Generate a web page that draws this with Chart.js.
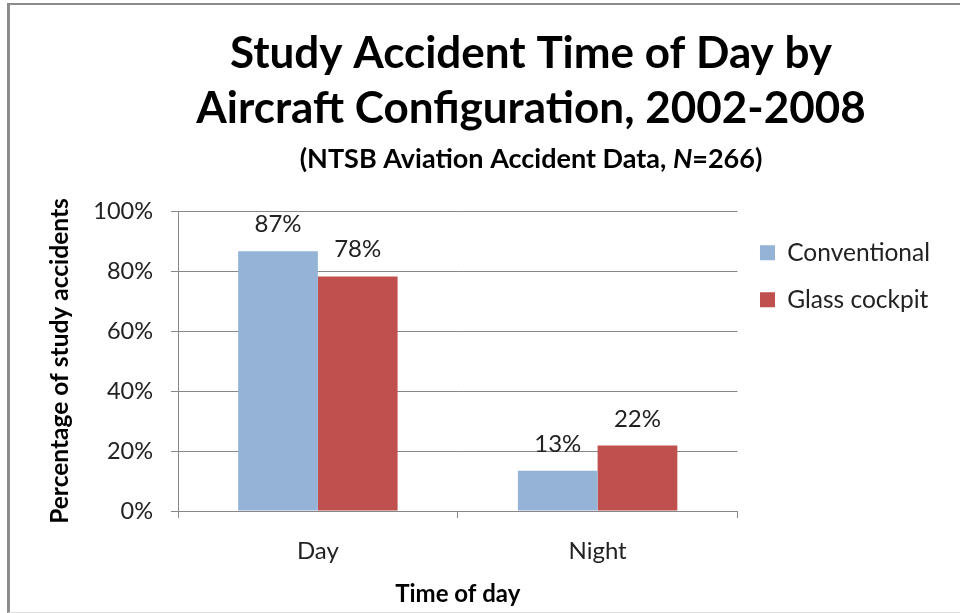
<!DOCTYPE html>
<html>
<head>
<meta charset="utf-8">
<title>Study Accident Time of Day by Aircraft Configuration</title>
<script src="https://cdn.jsdelivr.net/npm/chart.js@4.4.1/dist/chart.umd.min.js"></script>
<style>
  html, body { margin: 0; padding: 0; background: #fff; }
  #wrap { position: relative; width: 960px; height: 613px; overflow: hidden; }
  #frame {
    position: absolute; left: 7px; top: 3px; width: 960px; height: 607px;
    border-left: 3px solid #8c8c8c; border-top: 2px solid #8c8c8c; border-bottom: 1px solid #dcdcdc;
  }
  #accidentChart { position: absolute; left: 0; top: 0; }
</style>
</head>
<body>
<div id="wrap">
  <div id="frame"></div>
  <canvas id="accidentChart" width="960" height="613"></canvas>
</div>
<script>
// Data
const timeOfDay = ['Day', 'Night'];
const conventional = [86.6, 13.4];
const glassCockpit = [78.2, 21.8];
const yTicks = [0, 20, 40, 60, 80, 100];

const FONT = "Lato, 'Open Sans', sans-serif";

// Title block is drawn by hand so it can sit off-centre like the original
const titleBlock = {
  id: 'titleBlock',
  afterDraw(chart) {
    const ctx = chart.ctx;
    const cx = 531;
    ctx.save();
    ctx.fillStyle = '#000';
    ctx.textAlign = 'center';
    ctx.textBaseline = 'alphabetic';
    ctx.font = 'bold 44px ' + FONT;
    ctx.fillText('Study Accident Time of Day by', cx, 68);
    ctx.fillText('Aircraft Configuration, 2002-2008', cx, 123);

    // subtitle with an italic N
    const a = '(NTSB Aviation Accident Data, ';
    const b = 'N';
    const c = '=266)';
    const normal = 'bold 27px ' + FONT;
    const italic = 'italic bold 27px ' + FONT;
    ctx.font = normal;
    const wa = ctx.measureText(a).width, wc = ctx.measureText(c).width;
    ctx.font = italic;
    const wb = ctx.measureText(b).width;
    let x = cx - (wa + wb + wc) / 2;
    ctx.textAlign = 'left';
    ctx.font = normal; ctx.fillText(a, x, 168); x += wa;
    ctx.font = italic; ctx.fillText(b, x, 168); x += wb;
    ctx.font = normal; ctx.fillText(c, x, 168);
    ctx.restore();
  }
};

// value labels above each bar
const barLabels = {
  id: 'barLabels',
  afterDatasetsDraw(chart) {
    const ctx = chart.ctx;
    ctx.save();
    ctx.font = '24px ' + FONT;
    ctx.fillStyle = '#222';
    ctx.textAlign = 'center';
    ctx.textBaseline = 'alphabetic';
    chart.data.datasets.forEach((ds, i) => {
      chart.getDatasetMeta(i).data.forEach((bar, j) => {
        ctx.fillText(Math.round(ds.data[j]) + '%', bar.x, bar.y - 19);
      });
    });
    ctx.restore();
  }
};

new Chart(document.getElementById('accidentChart'), {
  type: 'bar',
  data: {
    labels: timeOfDay,
    datasets: [
      { label: 'Conventional', data: conventional, backgroundColor: '#95b3d7', borderWidth: 0 },
      { label: 'Glass cockpit', data: glassCockpit, backgroundColor: '#c0504d', borderWidth: 0 }
    ]
  },
  options: {
    responsive: false,
    animation: false,
    devicePixelRatio: 1,
    layout: { padding: { top: 211, left: 0, right: 20, bottom: 0 } },
    datasets: { bar: { barPercentage: 1, categoryPercentage: 0.57 } },
    plugins: {
      title: { display: false },
      tooltip: { enabled: false },
      legend: {
        position: 'right',
        align: 'start',
        title: { display: true, text: '', font: { size: 7, lineHeight: 1 }, padding: 0 },
        labels: {
          boxWidth: 15,
          boxHeight: 15,
          padding: 22.5,
          color: '#222',
          font: { family: FONT, size: 24.5 }
        }
      }
    },
    scales: {
      x: {
        afterFit(scale) { scale.height = 102; },
        grid: { display: true, drawOnChartArea: false, drawTicks: true, tickLength: 7, color: '#888' },
        border: { display: true, color: '#888' },
        ticks: { padding: 19, color: '#222', font: { family: FONT, size: 24 } },
        title: {
          display: true, text: 'Time of day', color: '#000',
          font: { family: FONT, size: 24, weight: 'bold' },
          padding: { top: 0, bottom: 4 }
        }
      },
      y: {
        min: 0,
        max: 100,
        afterFit(scale) { scale.width = 178; },
        afterBuildTicks(scale) { scale.ticks = yTicks.map(v => ({ value: v })); },
        grid: { color: '#888', tickLength: 7 },
        border: { display: true, color: '#888' },
        ticks: {
          padding: 18, color: '#222', font: { family: FONT, size: 23.5 },
          callback: v => v + '%'
        },
        title: {
          display: true, text: 'Percentage of study accidents', color: '#000',
          font: { family: FONT, size: 24.5, weight: 'bold' },
          padding: { top: 45, bottom: 0 }
        }
      }
    }
  },
  plugins: [titleBlock, barLabels]
});
</script>
</body>
</html>
